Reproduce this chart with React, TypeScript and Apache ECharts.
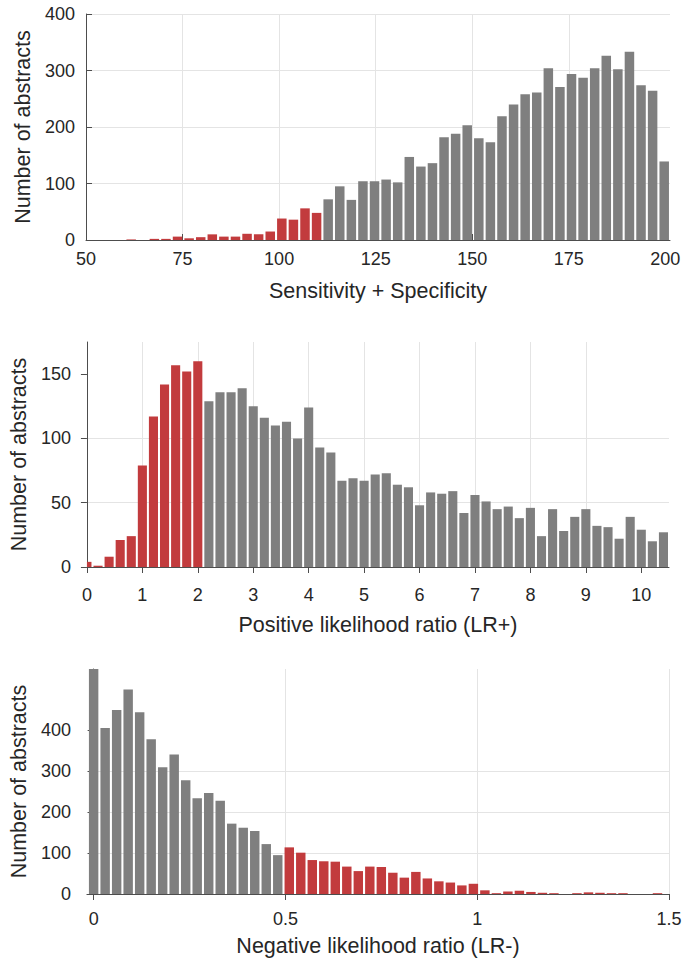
import React, { useEffect, useRef } from 'react';
import * as echarts from 'echarts';

// ---------- Data ----------
// Panel 1: Sensitivity + Specificity (bins of width 3)
const sensSpecBinStart = 51.2;
const sensSpecBinWidth = 3;
const sensSpecCounts = [
  0, 0, 0, 1, 0, 2, 2, 6, 3, 5, 10, 6, 6, 11, 10, 15, 38, 36, 56, 48,
  72, 95, 71, 104, 104, 107, 102, 147, 130, 136, 182, 188, 203, 180, 173, 219, 240, 258, 261, 304,
  271, 294, 287, 304, 326, 302, 333, 274, 264, 139,
];
const sensSpecRedBins = 20; // first bins drawn in red
const sensSpecTicks = [50, 75, 100, 125, 150, 175, 200];
const sensSpecYTicks = [0, 100, 200, 300, 400];

// Panel 2: Positive likelihood ratio (bins of width 0.2)
const lrPosBinStart = -0.1;
const lrPosBinWidth = 0.2;
const lrPosCounts = [
  4, 1, 8, 21, 24, 79, 117, 142, 157, 152, 160,
  129, 136, 136, 139, 125, 116, 110, 113, 100, 124,
  93, 89, 67, 69, 67, 72, 73, 64, 62, 48,
  58, 57, 59, 42, 56, 51, 45, 47, 38, 46,
  24, 45, 28, 39, 45, 32, 31, 22, 39, 29,
  20, 27,
];
const lrPosRedBins = 11;
const lrPosTicks = [0, 1, 2, 3, 4, 5, 6, 7, 8, 9, 10];
const lrPosYTicks = [0, 50, 100, 150];

// Panel 3: Negative likelihood ratio (bins of width 0.03)
const lrNegBinStart = -0.015;
const lrNegBinWidth = 0.03;
const lrNegCounts = [
  560, 406, 450, 500, 444, 378, 310, 341, 278, 234, 247, 228, 172, 162, 154, 122, 95,
  114, 101, 83, 80, 79, 67, 56, 67, 66, 52, 40, 54, 38, 31, 28, 21, 25, 9,
  2, 6, 8, 5, 3, 2, 0, 2, 4, 3, 2, 2, 0, 0, 2, 0,
];
const lrNegGrayBins = 17; // first bins drawn in gray, the rest in red
const lrNegTicks = [0, 0.5, 1, 1.5];
const lrNegYTicks = [0, 100, 200, 300, 400];

// ---------- Styles ----------
const GRAY = '#7f7f7f';
const RED = '#c23b3d';
const GRID = '#e4e4e4';
const AXIS = '#4d4d4d';
const TEXT = '#262626';
const FONT = '"Liberation Sans", Arial, Helvetica, sans-serif';
const TICK_SIZE = 18;
const TITLE_SIZE = 21.5;
const FILL = 0.82;

function buildBins(start: number, width: number, counts: number[], isRed: (i: number) => boolean) {
  return counts.map((c, i) => [start + i * width, start + (i + 1) * width, c, isRed(i) ? 1 : 0]);
}

const renderHist = (params: any, api: any) => {
  const x0 = api.value(0);
  const x1 = api.value(1);
  const c = api.value(2);
  const red = api.value(3) === 1;
  const pad = ((x1 - x0) * (1 - FILL)) / 2;
  const a = api.coord([x0 + pad, c]);
  const b = api.coord([x1 - pad, 0]);
  const cs = params.coordSys;
  const shape = echarts.graphic.clipRectByRect(
    { x: a[0], y: a[1], width: b[0] - a[0], height: b[1] - a[1] },
    { x: cs.x, y: cs.y, width: cs.width, height: cs.height }
  );
  if (!shape) return null;
  return { type: 'rect', shape, style: { fill: red ? RED : GRAY } };
};

const listFormatter = (list: number[]) => (v: number) =>
  list.some((t) => Math.abs(t - v) < 1e-9) ? String(v) : '';

function App() {
  const ref = useRef<HTMLDivElement>(null);
  useEffect(() => {
    if (!ref.current) return;
    const chart = echarts.init(ref.current, null, { renderer: 'svg' });

    const axisText = { color: TEXT, fontFamily: FONT, fontSize: TICK_SIZE };
    const nameText = { color: TEXT, fontFamily: FONT, fontSize: TITLE_SIZE };
    const axisLine = { show: true, lineStyle: { color: AXIS, width: 1 } };

    const xBase = (gridIndex: number, min: number, max: number, ticks: number[], inside: boolean, name: string, nameGap: number, margin: number, extra: any) => ({
      type: 'value',
      gridIndex,
      min,
      max,
      name,
      nameLocation: 'middle',
      nameGap,
      nameTextStyle: nameText,
      axisLine: { ...axisLine, onZero: false },
      axisTick: { show: true, inside, length: 6, lineStyle: { color: AXIS }, customValues: ticks },
      axisLabel: { ...axisText, margin, customValues: ticks, formatter: listFormatter(ticks) },
      splitLine: { show: true, showMaxLine: false, lineStyle: { color: GRID, width: 1 } },
      ...extra,
    });

    const yBase = (gridIndex: number, max: number, ticks: number[], inside: boolean, nameGap: number, margin: number, extra: any) => ({
      type: 'value',
      gridIndex,
      min: 0,
      max,
      name: 'Number of abstracts',
      nameLocation: 'middle',
      nameGap,
      nameTextStyle: nameText,
      axisLine,
      axisTick: { show: true, inside, length: 6, lineStyle: { color: AXIS }, customValues: ticks },
      axisLabel: { ...axisText, margin, customValues: ticks, formatter: listFormatter(ticks) },
      splitLine: { show: true, lineStyle: { color: GRID, width: 1 } },
      ...extra,
    });

    const option: any = {
      animation: false,
      backgroundColor: '#ffffff',
      grid: [
        { left: 86, right: 16, top: 14, height: 226 },
        { left: 86, right: 17, top: 342, height: 225 },
        { left: 86, right: 17, top: 669, height: 225 },
      ],
      xAxis: [
        xBase(0, 50, 201.2, sensSpecTicks, true, 'Sensitivity + Specificity', 40, 10, { interval: 25 }),
        xBase(1, 0, 10.5, lrPosTicks, false, 'Positive likelihood ratio (LR+)', 47, 19, { interval: 1 }),
        xBase(2, -0.0175, 1.5, lrNegTicks, false, 'Negative likelihood ratio (LR-)', 41, 16, {
          minInterval: 0.5,
          maxInterval: 0.5,
          splitLine: { show: true, lineStyle: { color: GRID, width: 1 } },
        }),
      ],
      yAxis: [
        yBase(0, 400, sensSpecYTicks, true, 45, 11, { interval: 100 }),
        yBase(1, 175, lrPosYTicks, false, 54, 16, {
          interval: 50,
          splitLine: { show: true, showMaxLine: false, lineStyle: { color: GRID, width: 1 } },
        }),
        yBase(2, 550, lrNegYTicks, false, 55, 16, {
          interval: 100,
          splitLine: {
            show: true,
            showMaxLine: false,
            lineStyle: { color: [GRID, GRID, GRID, GRID, GRID, 'rgba(0,0,0,0)', 'rgba(0,0,0,0)'], width: 1 },
          },
        }),
      ],
      series: [
        {
          type: 'custom',
          xAxisIndex: 0,
          yAxisIndex: 0,
          renderItem: renderHist,
          encode: { x: [0, 1], y: 2 },
          data: buildBins(sensSpecBinStart, sensSpecBinWidth, sensSpecCounts, (i) => i < sensSpecRedBins),
        },
        {
          type: 'custom',
          xAxisIndex: 1,
          yAxisIndex: 1,
          renderItem: renderHist,
          encode: { x: [0, 1], y: 2 },
          data: buildBins(lrPosBinStart, lrPosBinWidth, lrPosCounts, (i) => i < lrPosRedBins),
        },
        {
          type: 'custom',
          xAxisIndex: 2,
          yAxisIndex: 2,
          renderItem: renderHist,
          encode: { x: [0, 1], y: 2 },
          data: buildBins(lrNegBinStart, lrNegBinWidth, lrNegCounts, (i) => i >= lrNegGrayBins),
        },
      ],
    };
    chart.setOption(option);
    return () => chart.dispose();
  }, []);

  return (
    <div
      ref={ref}
      style={{ position: 'fixed', left: 0, top: 0, width: 686, height: 967, background: '#fff' }}
    />
  );
}

export default App;
